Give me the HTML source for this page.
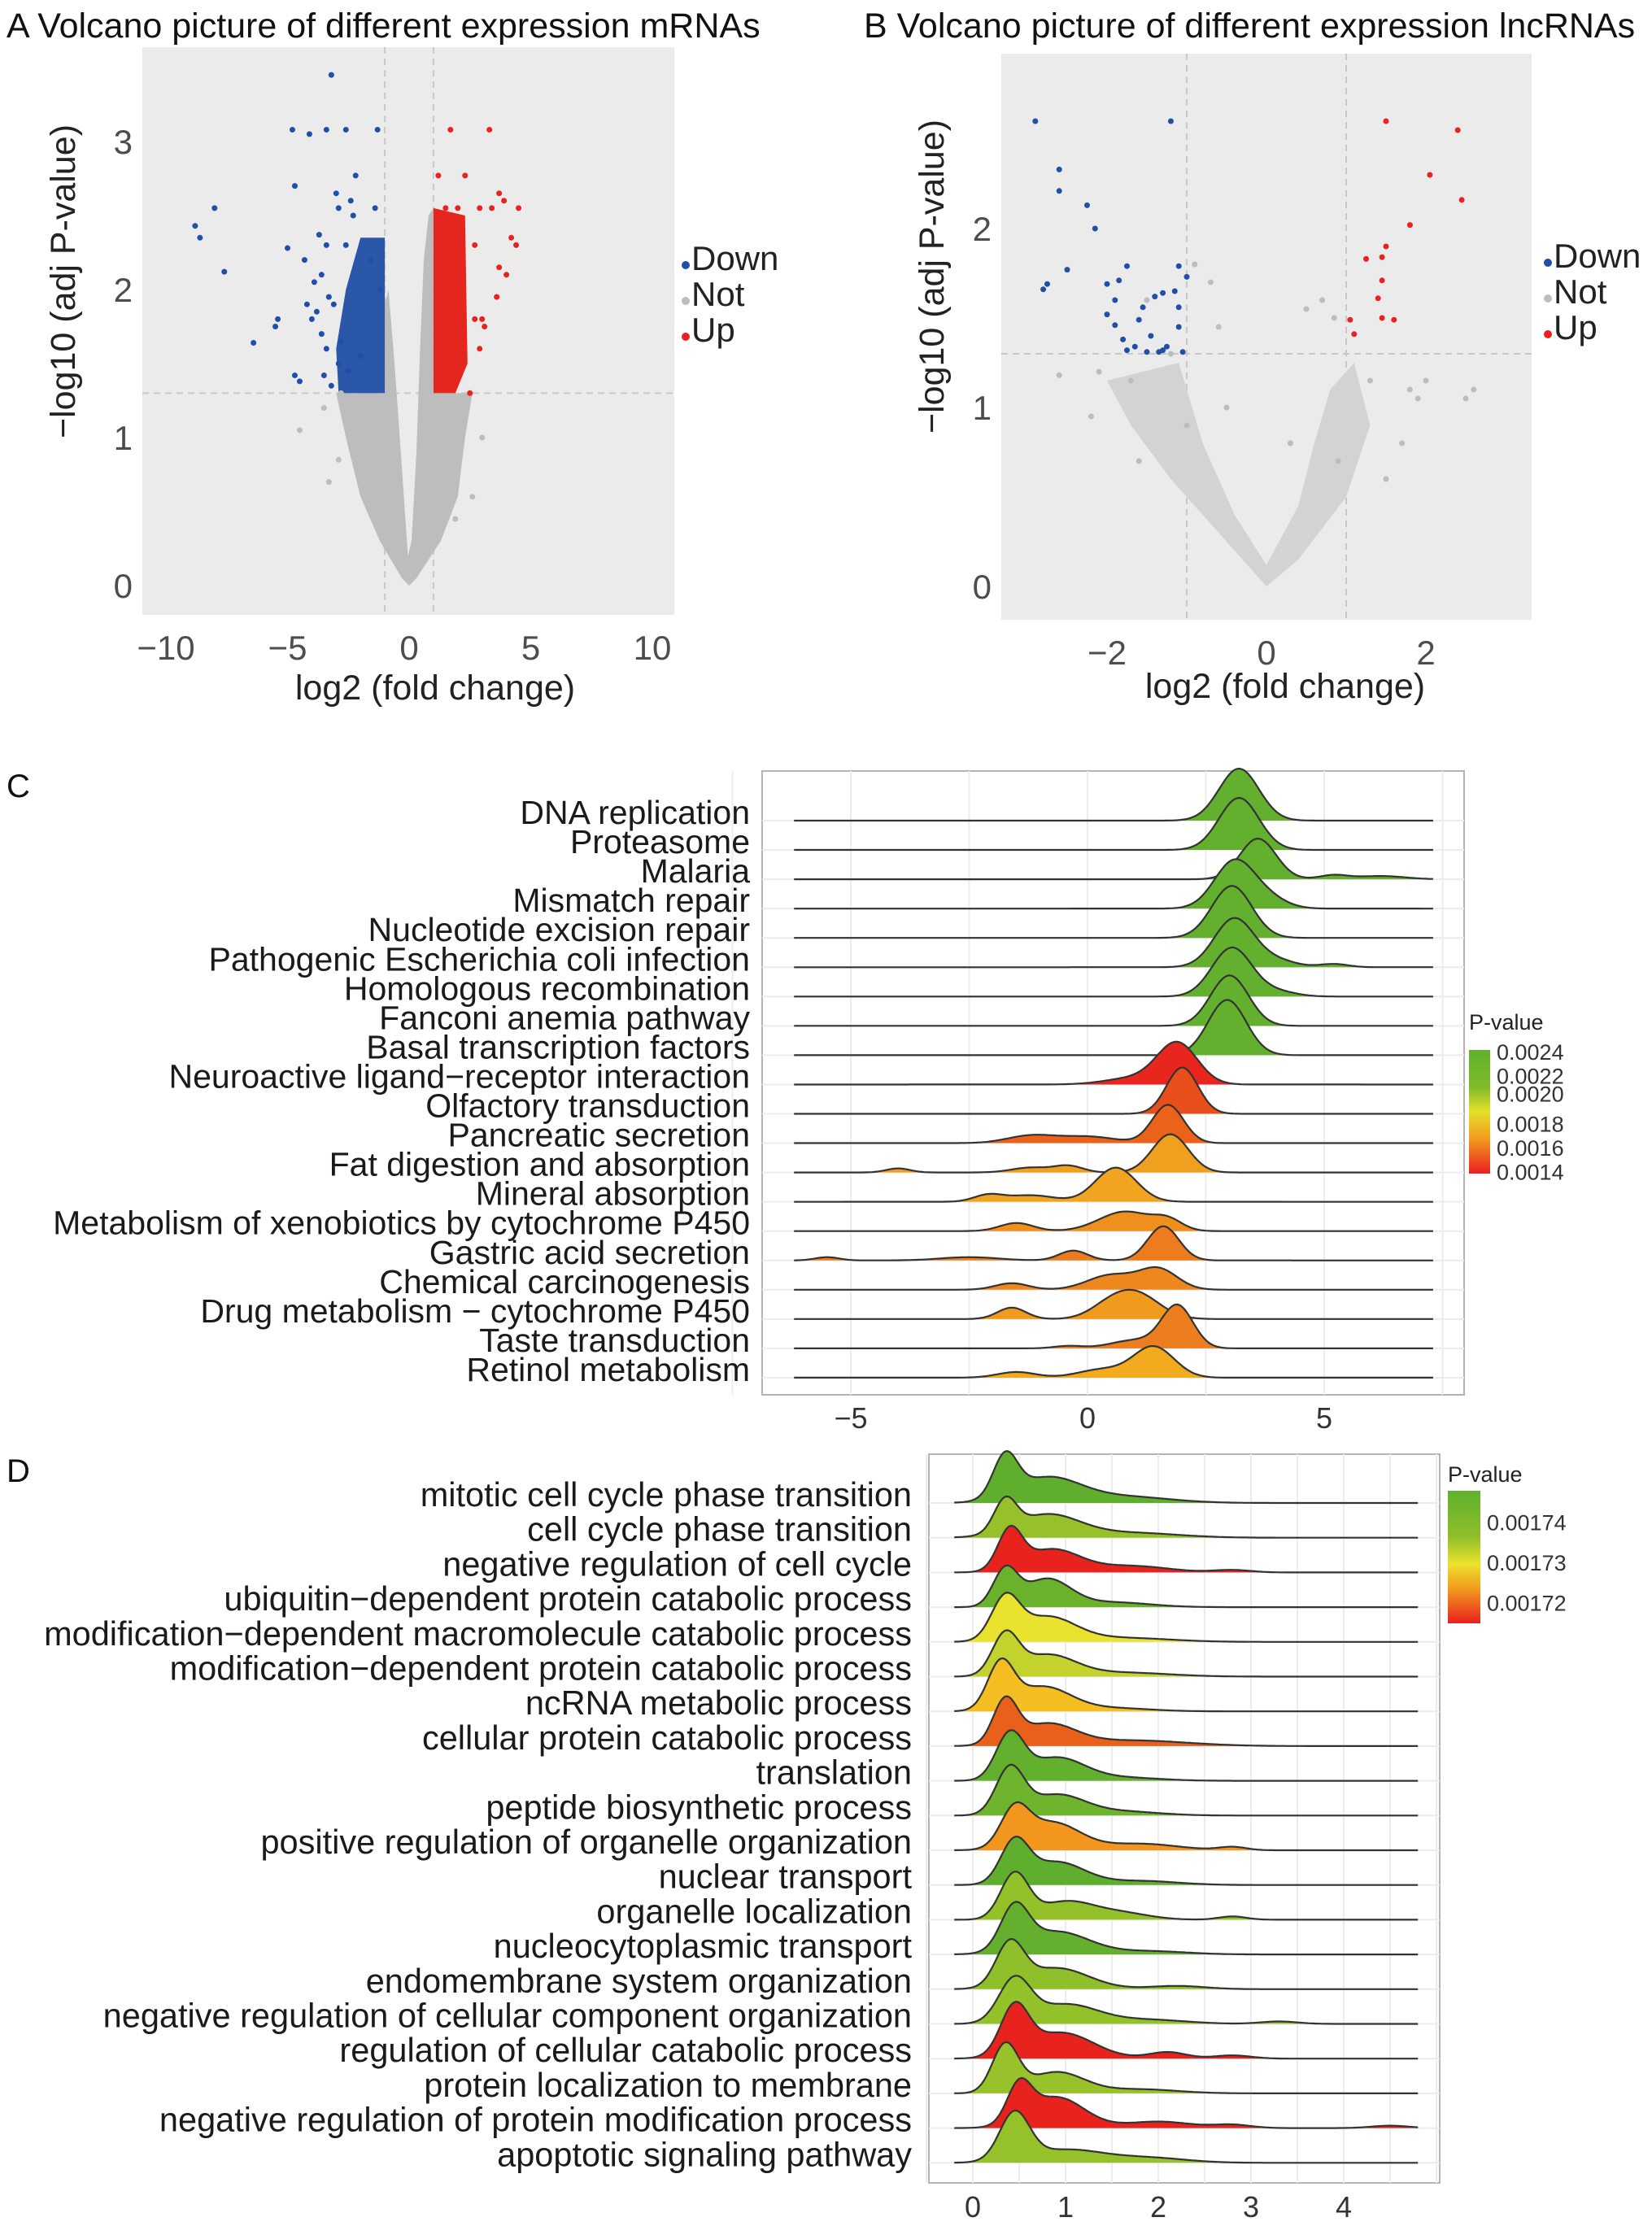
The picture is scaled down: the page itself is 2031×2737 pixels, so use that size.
<!DOCTYPE html>
<html><head><meta charset="utf-8"><style>
body{margin:0;background:#fff}
svg{display:block;font-family:"Liberation Sans",Arial,sans-serif}
</style></head><body>
<svg id="fig" width="2031" height="2737" viewBox="0 0 2031 2737" xmlns="http://www.w3.org/2000/svg">
<defs>
<linearGradient id="gradC" x1="0" y1="0" x2="0" y2="1">
<stop offset="0" stop-color="#5fb12e"/><stop offset="0.3" stop-color="#7fbb2a"/><stop offset="0.5" stop-color="#e5e02a"/><stop offset="0.72" stop-color="#f2991e"/><stop offset="1" stop-color="#e8201e"/></linearGradient>
<linearGradient id="gradD" x1="0" y1="0" x2="0" y2="1">
<stop offset="0" stop-color="#5fb12e"/><stop offset="0.35" stop-color="#8fbf2a"/><stop offset="0.55" stop-color="#ece22c"/><stop offset="0.75" stop-color="#f2961e"/><stop offset="1" stop-color="#e8201e"/></linearGradient>
</defs>
<g id="panelA"></g>
<g id="panelB"></g>
<g id="panelC"></g>
<g id="panelD"></g>
</svg>
<script>
// ---------- Volcano A data ----------
const aTicksX=[-10,-5,0,5,10];
const aTicksY=[0,1,2,3];
const aGrayEnvelope=[[0,0],[-0.3,0.05],[-1.2,0.3],[-2,0.6],[-2.6,1.0],[-3,1.3],[-1,1.3],[-1,1.9],[-0.85,2.0],[-0.6,1.5],[-0.3,0.8],[-0.05,0.2],[0.1,0.3],[0.3,0.9],[0.45,1.6],[0.6,2.2],[0.8,2.5],[1,2.55],[1,1.3],[2.6,1.3],[2.3,1.0],[2.0,0.6],[1.3,0.3],[0.3,0.05]];
const aGrayX=[-3.5,-4.5,-2.9,-3.3,3.0,2.6,2.2,-2.8,1.9];
const aGrayY=[1.2,1.05,0.85,0.7,1.0,0.6,1.15,1.3,0.45];
const aDownCore=[[-2.9,1.3],[-1,1.3],[-1,2.35],[-2.0,2.35],[-2.6,2.0],[-3.0,1.6]];
const aUpCore=[[1,1.3],[1.9,1.3],[2.4,1.5],[2.3,2.5],[1,2.55]];
const aDownX=[-3.2,-4.8,-4.1,-3.4,-2.6,-1.3,-2.2,-4.7,-3.0,-2.4,-8.0,-8.8,-8.6,-7.6,-4.3,-5.0,-3.7,-6.4,-5.4,-5.5,-4.7,-4.5,-3.5,-3.9,-2.3,-2.9,-3.4,-1.4,-2.6,-3.1,-4.0,-2.0,-3.3,-2.8,-1.6,-1.2,-2.5,-3.6,-3.8,-3.4,-2.9,-4.2,-3.6,-3.2];
const aDownY=[3.45,3.08,3.05,3.08,3.08,3.08,2.77,2.7,2.65,2.6,2.55,2.43,2.35,2.12,2.2,2.28,2.37,1.64,1.8,1.75,1.42,1.38,1.42,2.05,2.5,2.55,2.3,2.55,2.3,1.9,1.8,1.55,1.95,1.65,2.2,2.0,1.45,1.7,1.85,1.6,1.5,1.9,2.1,1.35];
const aUpX=[1.7,3.3,1.2,2.3,3.7,3.9,4.5,1.5,2.0,2.9,3.4,4.2,4.4,3.7,3.6,2.7,3.0,4.0,2.5,2.1,2.7,2.9,3.1];
const aUpY=[3.08,3.08,2.77,2.77,2.65,2.6,2.55,2.55,2.55,2.55,2.55,2.35,2.3,2.15,1.95,1.8,1.8,2.1,1.3,2.0,2.3,1.6,1.75];
// ---------- Volcano B data ----------
const bTicksX=[-2,0,2];
const bTicksY=[0,1,2];
const bGrayEnvelope=[[0,0],[-0.6,0.3],[-1.2,0.6],[-1.7,0.9],[-2.0,1.15],[-1.1,1.25],[-0.8,0.8],[-0.4,0.4],[0,0.12],[0.4,0.45],[0.6,0.8],[0.8,1.1],[1.1,1.25],[1.3,0.9],[1.0,0.5],[0.4,0.15]];
const bGrayX=[-2.6,-2.1,-1.7,-1.2,-0.7,-0.6,-0.9,0.5,0.7,0.85,1.3,1.8,2.0,2.5,2.6,1.7,1.9,1.5,-2.2,-1.5,-1.0,-0.5,-1.6,0.3,0.9];
const bGrayY=[1.18,1.2,1.15,1.3,1.7,1.45,1.8,1.55,1.6,1.5,1.15,1.1,1.15,1.05,1.1,0.8,1.05,0.6,0.95,1.6,0.9,1.0,0.7,0.8,0.7];
const bDownX=[-2.9,-1.2,-2.6,-2.6,-2.25,-2.15,-2.5,-2.75,-2.8,-1.75,-1.1,-1.0,-2.0,-1.85,-1.3,-1.4,-1.15,-1.1,-1.9,-2.0,-1.6,-1.8,-1.45,-1.9,-1.65,-1.75,-1.5,-1.3,-1.25,-1.1,-1.05,-1.35,-1.55];
const bDownY=[2.6,2.6,2.33,2.21,2.13,2.0,1.77,1.69,1.66,1.79,1.79,1.73,1.69,1.71,1.64,1.62,1.65,1.56,1.6,1.52,1.49,1.38,1.4,1.46,1.34,1.32,1.31,1.32,1.34,1.45,1.31,1.31,1.56];
const bUpX=[1.5,2.4,2.05,2.45,1.8,1.5,1.25,1.45,1.45,1.4,1.45,1.6,1.05,1.1];
const bUpY=[2.6,2.55,2.3,2.16,2.02,1.9,1.83,1.84,1.71,1.61,1.5,1.49,1.49,1.41];

// ---------- Ridge C data ----------
const cTerms=["DNA replication","Proteasome","Malaria","Mismatch repair","Nucleotide excision repair","Pathogenic Escherichia coli infection","Homologous recombination","Fanconi anemia pathway","Basal transcription factors","Neuroactive ligand\u2212receptor interaction","Olfactory transduction","Pancreatic secretion","Fat digestion and absorption","Mineral absorption","Metabolism of xenobiotics by cytochrome P450","Gastric acid secretion","Chemical carcinogenesis","Drug metabolism \u2212 cytochrome P450","Taste transduction","Retinol metabolism"];
const cColors=["#62b02e","#62b02e","#62b02e","#62b02e","#62b02e","#62b02e","#62b02e","#62b02e","#62b02e","#e8261f","#e84f1b","#eb621a","#f0a01f","#f1a420","#ef901e","#ec7c1e","#ee881e","#f09a1e","#ec7e1f","#f2aa1e"];
// components: [center, sd, height(px)]
const cComps=[
[[3.2,0.42,64]],
[[3.2,0.42,64]],
[[3.6,0.38,50],[5.2,0.3,5],[6.2,0.5,4]],
[[3.1,0.42,58],[3.8,0.4,12]],
[[3.05,0.42,64]],
[[3.1,0.42,60],[4.0,0.4,8],[5.2,0.3,4]],
[[3.05,0.42,60],[4.0,0.4,6]],
[[3.0,0.4,62]],
[[2.95,0.4,68]],
[[1.9,0.42,50],[1.0,0.6,8]],
[[2.0,0.33,57]],
[[1.7,0.33,47],[-1.2,0.5,9],[0.0,0.6,8]],
[[1.75,0.38,47],[-4.0,0.25,5],[-1.2,0.4,6],[-0.4,0.3,8]],
[[0.6,0.43,42],[-2.1,0.3,8],[-1.2,0.5,8]],
[[0.8,0.55,24],[-1.5,0.35,10],[1.7,0.3,12]],
[[1.6,0.33,42],[-0.3,0.3,12],[-5.5,0.25,4],[-2.5,0.6,4]],
[[1.5,0.4,25],[0.5,0.5,18],[-1.6,0.35,8]],
[[1.0,0.5,32],[-1.6,0.3,14],[0.4,0.4,10]],
[[1.9,0.33,52],[1.0,0.5,10],[-0.4,0.3,3]],
[[1.4,0.43,38],[-1.5,0.4,7],[0.3,0.5,10]]];
const cTicks=[-5,0,5];
const cLegendLabels=["0.0024","0.0022","0.0020","0.0018","0.0016","0.0014"];
const cLegendVals=[0.0024,0.0022,0.00205,0.0018,0.0016,0.0014];

// ---------- Ridge D data ----------
const dTerms=["mitotic cell cycle phase transition","cell cycle phase transition","negative regulation of cell cycle","ubiquitin\u2212dependent protein catabolic process","modification\u2212dependent macromolecule catabolic process","modification\u2212dependent protein catabolic process","ncRNA metabolic process","cellular protein catabolic process","translation","peptide biosynthetic process","positive regulation of organelle organization","nuclear transport","organelle localization","nucleocytoplasmic transport","endomembrane system organization","negative regulation of cellular component organization","regulation of cellular catabolic process","protein localization to membrane","negative regulation of protein modification process","apoptotic signaling pathway"];
const dColors=["#5fae2e","#96c12a","#e8231e","#6bb22c","#e9e330","#c3d22d","#f4be22","#e8601a","#63b02e","#6fb42d","#f2961e","#5fae2e","#94c12a","#64b02e","#8fbf2a","#93c12a","#e8231e","#97c22a","#e8231e","#95c12a"];
const dComps=[
[[0.35,0.13,50],[0.8,0.35,30],[1.6,0.5,8]],
[[0.35,0.12,38],[0.8,0.35,28],[1.7,0.5,6]],
[[0.4,0.13,48],[0.85,0.3,28],[1.7,0.4,8],[2.8,0.2,3]],
[[0.35,0.13,44],[0.8,0.25,34],[1.5,0.4,6]],
[[0.35,0.15,50],[0.8,0.3,30],[1.6,0.5,5]],
[[0.35,0.14,48],[0.8,0.3,26],[1.6,0.5,5]],
[[0.3,0.14,55],[0.75,0.3,30],[1.5,0.4,4]],
[[0.35,0.13,52],[0.8,0.3,26],[1.7,0.6,7]],
[[0.4,0.15,55],[0.9,0.3,28],[1.6,0.4,4]],
[[0.4,0.15,56],[0.9,0.3,25],[1.6,0.4,5]],
[[0.45,0.15,44],[0.85,0.3,34],[1.8,0.4,8],[2.8,0.15,4]],
[[0.45,0.15,50],[0.9,0.3,28],[1.8,0.4,5]],
[[0.45,0.15,55],[1.0,0.3,22],[1.6,0.3,8],[2.8,0.15,4]],
[[0.45,0.15,52],[0.9,0.35,28],[1.9,0.4,4]],
[[0.4,0.15,52],[0.9,0.35,26],[2.2,0.3,4]],
[[0.45,0.17,52],[1.0,0.35,24],[1.9,0.4,5],[3.3,0.2,3]],
[[0.45,0.15,58],[0.95,0.35,32],[2.1,0.2,8],[2.8,0.2,4]],
[[0.35,0.14,58],[0.9,0.3,26],[1.8,0.4,5]],
[[0.5,0.13,45],[0.9,0.3,38],[2.0,0.35,8],[2.8,0.2,4],[4.5,0.2,3]],
[[0.45,0.16,58],[1.0,0.4,16],[1.9,0.4,6]]];
const dTicks=[0,1,2,3,4];
const dLegendLabels=["0.00174","0.00173","0.00172"];
const dLegendVals=[0.00174,0.00173,0.00172];

const NS="http://www.w3.org/2000/svg";
function mk(parent,tag,attrs,txt){const e=document.createElementNS(NS,tag);for(const k in attrs)e.setAttribute(k,attrs[k]);if(txt!==undefined)e.textContent=txt;parent.appendChild(e);return e;}

// ---------- Volcano drawing ----------
function volcano(g,cfg){
  const sx=v=>cfg.x0+v*cfg.ux, sy=v=>cfg.y0-v*cfg.uy;
  const bg=mk(g,'rect',{x:cfg.L,y:cfg.T,width:cfg.R-cfg.L,height:cfg.B-cfg.T,fill:'#ebebeb'});
  
  
  [-1,1].forEach(v=>{const l=mk(g,'line',{x1:sx(v),x2:sx(v),y1:cfg.T,y2:cfg.B,stroke:'#c8c8c8','stroke-width':2,'stroke-dasharray':'8 6'});
    
    });
  const th=mk(g,'line',{x1:cfg.L,x2:cfg.R,y1:sy(1.3),y2:sy(1.3),stroke:'#c8c8c8','stroke-width':2,'stroke-dasharray':'8 6'});
  
  
  const poly=(pts,fill,name)=>{const p=mk(g,'polygon',{points:pts.map(p=>sx(p[0])+','+sy(p[1])).join(' '),fill:fill});
    
    };
  poly(cfg.env,cfg.envFill,'not-significant-cloud');
  if(cfg.downCore)poly(cfg.downCore,'#2a57a8','down-dense-cluster');
  if(cfg.upCore)poly(cfg.upCore,'#e4261f','up-dense-cluster');
  const pts=(xs,ys,col,name)=>xs.forEach((x,i)=>{const c=mk(g,'circle',{cx:sx(x),cy:sy(ys[i]),r:cfg.r,fill:col});
    
    });
  pts(cfg.gx,cfg.gy,'#bdbdbd','not-point');
  pts(cfg.dx,cfg.dy,'#1f4fa8','down-point');
  pts(cfg.ux_,cfg.uy_,'#e8221e','up-point');
  cfg.tx.forEach(v=>{const t=mk(g,'text',{x:sx(v),y:cfg.B+55,'font-size':42,fill:'#4d4d4d','text-anchor':'middle'},v<0?'\u2212'+(-v):String(v));
    
    });
  cfg.ty.forEach(v=>{const t=mk(g,'text',{x:cfg.L-12,y:sy(v)+15,'font-size':42,fill:'#4d4d4d','text-anchor':'end'},String(v));
    
    });
  const xt=mk(g,'text',{x:cfg.xlx,y:cfg.xly,'font-size':43,'text-anchor':'middle',fill:'#222'},'log2 (fold change)');
  
  
  const yt=mk(g,'text',{x:0,y:0,'font-size':43,'text-anchor':'middle',fill:'#222',transform:`translate(${cfg.ylx},${cfg.yly}) rotate(-90)`},'\u2212log10 (adj P-value)');
  
  
  const tt=mk(g,'text',{x:cfg.titleX,y:46,'font-size':43,fill:'#111'},cfg.title);
  
  
  [['Down','#1f4fa8'],['Not','#bdbdbd'],['Up','#e8221e']].forEach((e,i)=>{
    const yy=cfg.legY+i*44;
    const c=mk(g,'circle',{cx:cfg.legX+5,cy:yy+8,r:5,fill:e[1]});
    
    
    const t=mk(g,'text',{x:cfg.legX+12,y:yy+14,'font-size':42,fill:'#222'},e[0]);
    
    
  });
}
volcano(document.getElementById('panelA'),{L:175,R:829,T:58,B:756,x0:503,ux:29.9,y0:720,uy:182,r:3.5,
  env:aGrayEnvelope,envFill:'#bdbdbd',downCore:aDownCore,upCore:aUpCore,gx:aGrayX,gy:aGrayY,dx:aDownX,dy:aDownY,ux_:aUpX,uy_:aUpY,
  tx:aTicksX,ty:aTicksY,xlx:535,xly:860,ylx:92,yly:346,titleX:8,title:'A  Volcano picture of different expression mRNAs',legX:838,legY:318});
volcano(document.getElementById('panelB'),{L:1231,R:1883,T:66,B:762,x0:1557,ux:98,y0:721,uy:220,r:3.5,
  env:bGrayEnvelope,envFill:'#d3d3d3',downCore:null,upCore:null,gx:bGrayX,gy:bGrayY,dx:bDownX,dy:bDownY,ux_:bUpX,uy_:bUpY,
  tx:bTicksX,ty:bTicksY,xlx:1580,xly:858,ylx:1160,yly:340,titleX:1062,title:'B  Volcano picture of different expression lncRNAs',legX:1898,legY:315});

// ---------- Ridge drawing ----------
function ridges(g,cfg){
  const sx=v=>cfg.x0+v*cfg.ux;
  const f=mk(g,'rect',{x:cfg.L,y:cfg.T,width:cfg.R-cfg.L,height:cfg.B-cfg.T,fill:'#fff',stroke:'#b3b3b3','stroke-width':2});
  
  
  for(let v=cfg.gmin;v<=cfg.gmax+1e-9;v+=cfg.gstep){const l=mk(g,'line',{x1:sx(v),x2:sx(v),y1:cfg.T,y2:cfg.B,stroke:'#ececec','stroke-width':2});
    
    }
  cfg.terms.forEach((t,i)=>{const y=cfg.y1+i*cfg.dy;const l=mk(g,'line',{x1:cfg.L,x2:cfg.R,y1:y,y2:y,stroke:'#ececec','stroke-width':2});
    
    });
  cfg.terms.forEach((t,i)=>{
    const base=cfg.y1+i*cfg.dy, comps=cfg.comps[i];
    let d='M'+sx(cfg.xmin)+','+base, s='';
    for(let x=cfg.xmin;x<=cfg.xmax+1e-9;x+=cfg.step){
      let h=0;comps.forEach(c=>{h+=c[2]*Math.exp(-((x-c[0])**2)/(2*c[1]*c[1]));});
      const px=sx(x).toFixed(1),py=(base-h).toFixed(1);
      d+=' L'+px+','+py; s+=(s?' L':'M')+px+','+py;
    }
    d+=' L'+sx(cfg.xmax)+','+base+' Z';
    const fill=mk(g,'path',{d:d,fill:cfg.colors[i],stroke:'none'});
    
    
    const line=mk(g,'path',{d:s,fill:'none',stroke:'#333','stroke-width':2.2});
    
    
    const lab=mk(g,'text',{x:cfg.labX,y:base+4,'font-size':cfg.labFont,'text-anchor':'end',fill:'#1a1a1a'},t);
    
    
  });
  cfg.ticks.forEach(v=>{const t=mk(g,'text',{x:sx(v),y:cfg.tickY,'font-size':36,'text-anchor':'middle',fill:'#333'},v<0?'\u2212'+(-v):String(v));
    
    });
  const pl=mk(g,'text',{x:cfg.letterX,y:cfg.letterY,'font-size':40,fill:'#111'},cfg.letter);
  
  
  const lt=mk(g,'text',{x:cfg.legX,y:cfg.legTitleY,'font-size':27,fill:'#222'},'P-value');
  
  
  const bar=mk(g,'rect',{x:cfg.legX,y:cfg.barT,width:cfg.barW,height:cfg.barB-cfg.barT,fill:cfg.grad});
  
  
  const vy=v=>cfg.barT+(cfg.vmax-v)/(cfg.vmax-cfg.vmin)*(cfg.barB-cfg.barT);
  cfg.legLabels.forEach((t,i)=>{const e=mk(g,'text',{x:cfg.legX+cfg.barW+8,y:vy(cfg.legVals[i])+9,'font-size':27,fill:'#333'},t);
    
    });
}
ridges(document.getElementById('panelC'),{L:937,R:1800,T:948,B:1715,x0:1337,ux:58.2,xmin:-6.2,xmax:7.3,step:0.05,gmin:-7.5,gmax:7.5,gstep:2.5,
  y1:1009,dy:36.05,terms:cTerms,comps:cComps,colors:cColors,labX:922,labFont:41,ticks:cTicks,tickY:1756,letter:'C',letterX:8,letterY:980,
  legX:1806,legTitleY:1266,barT:1291,barB:1443,barW:26,grad:'url(#gradC)',vmax:0.00242,vmin:0.00139,legLabels:cLegendLabels,legVals:cLegendVals});
ridges(document.getElementById('panelD'),{L:1142,R:1770,T:1788,B:2684,x0:1196,ux:114,xmin:-0.2,xmax:4.8,step:0.02,gmin:-0.5,gmax:5,gstep:0.5,
  y1:1848,dy:42.7,terms:dTerms,comps:dComps,colors:dColors,labX:1121,labFont:41.5,ticks:dTicks,tickY:2726,letter:'D',letterX:8,letterY:1822,
  legX:1780,legTitleY:1822,barT:1833,barB:1996,barW:40,grad:'url(#gradD)',vmax:0.001748,vmin:0.001715,legLabels:dLegendLabels,legVals:dLegendVals});
</script>
</body></html>
